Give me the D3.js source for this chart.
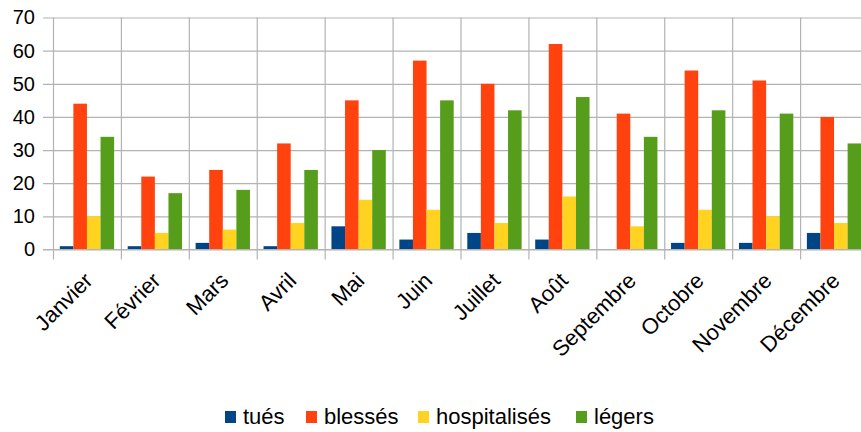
<!DOCTYPE html>
<html>
<head>
<meta charset="utf-8">
<script src="https://cdn.jsdelivr.net/npm/d3@7.9.0/dist/d3.min.js"></script>
<style>
  body { margin: 0; background: #fff; }
  svg { display: block; font-family: "Liberation Sans", Arial, sans-serif; }
</style>
</head>
<body>
<svg id="chart" width="861" height="432"></svg>
<script>
const months = ['Janvier', 'Février', 'Mars', 'Avril', 'Mai', 'Juin', 'Juillet', 'Août', 'Septembre', 'Octobre', 'Novembre', 'Décembre'];
const series = ['tués', 'blessés', 'hospitalisés', 'légers'];
const tues = [1, 1, 2, 1, 7, 3, 5, 3, 0, 2, 2, 5];
const blesses = [44, 22, 24, 32, 45, 57, 50, 62, 41, 54, 51, 40];
const hospitalises = [10, 5, 6, 8, 15, 12, 8, 16, 7, 12, 10, 8];
const legers = [34, 17, 18, 24, 30, 45, 42, 46, 34, 42, 41, 32];
const yTicks = [0, 10, 20, 30, 40, 50, 60, 70];
const colors = ['#004586', '#ff420e', '#ffd320', '#579d1c'];

const values = [tues, blesses, hospitalises, legers];
const data = months.map((m, i) => ({
    month: m,
    vals: series.map((s, j) => ({ key: s, value: values[j][i] }))
}));

const svg = d3.select('#chart');
const plotLeft = 53, plotRight = 868, plotTop = 17.5, plotBottom = 249.5;

let x = d3.scaleBand().domain(months).range([plotLeft, plotRight]).padding(0);
let x1 = d3.scaleBand().domain(series)
    .range([x.bandwidth() * 0.1, x.bandwidth() * 0.9]).padding(0);
let y = d3.scaleLinear().domain([0, 70]).range([plotBottom, plotTop]);
let color = d3.scaleOrdinal().domain(series).range(colors);

// horizontal grid + y labels
let yAxis = svg.append('g')
    .attr('transform', `translate(${plotLeft},0)`)
    .call(d3.axisLeft(y).tickValues(yTicks).tickSize(10).tickPadding(8));
yAxis.select('.domain').remove();
yAxis.selectAll('.tick line')
    .attr('x2', 861 - plotLeft + 10)
    .attr('x1', -10)
    .attr('stroke', '#b3b3b3')
    .attr('stroke-width', 1.2);
yAxis.selectAll('.tick text')
    .attr('font-size', 20)
    .attr('fill', '#000');

// vertical grid
svg.append('g')
    .selectAll('line')
    .data(months)
    .enter()
    .append('line')
    .attr('x1', d => x(d) + 0.5)
    .attr('x2', d => x(d) + 0.5)
    .attr('y1', plotTop)
    .attr('y2', plotBottom + 10)
    .attr('stroke', '#b3b3b3')
    .attr('stroke-width', 1.2);

// bars
svg.append('g')
    .selectAll('g')
    .data(data)
    .enter()
    .append('g')
    .attr('transform', d => `translate(${x(d.month)},0)`)
    .selectAll('rect')
    .data(d => d.vals)
    .enter()
    .append('rect')
    .attr('x', d => x1(d.key))
    .attr('width', x1.bandwidth())
    .attr('y', d => y(d.value))
    .attr('height', d => y(0) - y(d.value))
    .attr('fill', d => color(d.key));

// baseline
svg.append('line')
    .attr('x1', plotLeft - 10)
    .attr('x2', 861)
    .attr('y1', y(0))
    .attr('y2', y(0))
    .attr('stroke', '#b3b3b3')
    .attr('stroke-width', 1.2);

// month labels
svg.append('g')
    .selectAll('text')
    .data(months)
    .enter()
    .append('text')
    .attr('transform', d => `translate(${x(d) + x.bandwidth() / 2 + 7},282) rotate(-45)`)
    .attr('text-anchor', 'end')
    .attr('font-size', 22)
    .text(d => d);

// legend
const legendX = [225, 306, 418, 576];
let legend = svg.append('g')
    .selectAll('g')
    .data(series)
    .enter()
    .append('g')
    .attr('transform', (d, i) => `translate(${legendX[i]},411)`);
legend.append('rect')
    .attr('width', 11)
    .attr('height', 12)
    .attr('fill', d => color(d));
legend.append('text')
    .attr('x', 18)
    .attr('y', 13)
    .attr('font-size', 22)
    .text(d => d);
</script>
</body>
</html>
